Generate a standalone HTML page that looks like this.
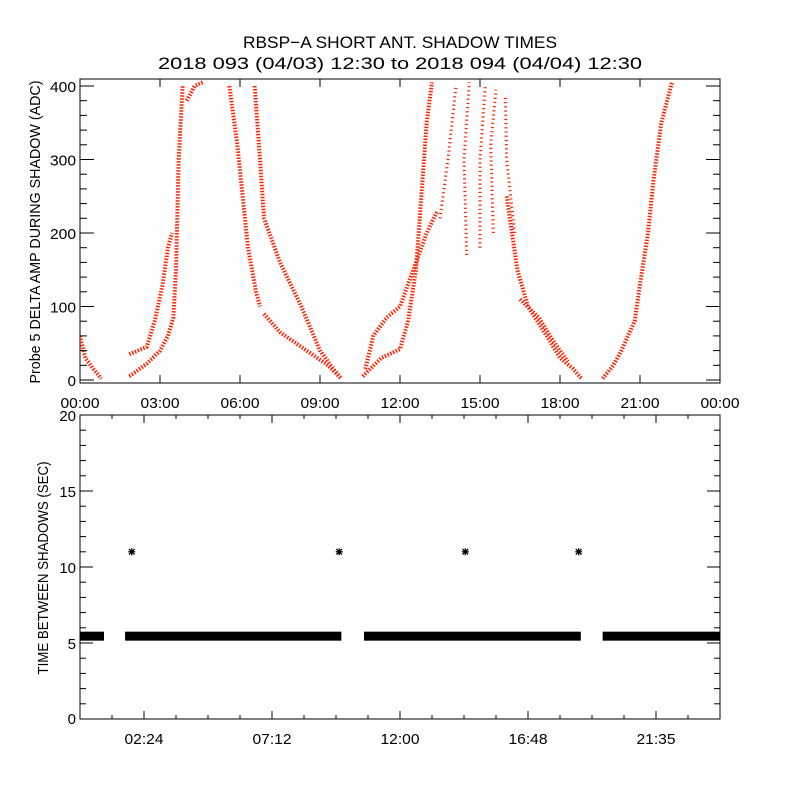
<!DOCTYPE html>
<html><head><meta charset="utf-8"><style>
body{margin:0;background:#fff;}
svg text{font-family:"Liberation Sans",sans-serif;fill:#000;}
</style></head><body>
<svg id="chart" width="800" height="800" viewBox="0 0 800 800">
<rect width="800" height="800" fill="#fff"/>
<text x="400" y="48" font-size="17" text-anchor="middle" textLength="314" lengthAdjust="spacingAndGlyphs">RBSP−A SHORT ANT. SHADOW TIMES</text>
<text x="400" y="69" font-size="17" text-anchor="middle" textLength="484" lengthAdjust="spacingAndGlyphs">2018 093 (04/03) 12:30 to 2018 094 (04/04) 12:30</text>
<g id="topPanel"></g>
<g id="botPanel"></g>
</svg>
<script>
// ---- top panel data: each branch is [hours, ADC] keypoints
const ampBranchA = [[0,60],[0.2,30],[0.5,15],[0.8,2]];
const ampBranchB = [[1.85,5],[2.5,22],[3.0,40],[3.3,60],[3.5,85],[3.6,150],[3.7,300],[3.85,400]];
const ampBranchC = [[1.85,35],[2.5,45],[2.8,80],[3.1,130],[3.3,180],[3.45,200]];
const ampBranchD = [[4.0,380],[4.3,400],[4.6,405]];
const ampBranchE = [[5.6,400],[5.9,320],[6.1,250],[6.3,180],[6.6,120],[6.75,100]];
const ampBranchF = [[6.55,400],[6.75,300],[6.9,220],[7.5,160],[8.3,100],[9.0,40],[9.5,15],[9.8,2]];
const ampBranchG = [[6.9,90],[7.5,65],[8.5,40],[9.3,20],[9.8,2]];
const ampBranchH = [[10.6,5],[11.3,30],[12.0,42],[12.3,80],[12.6,150],[12.8,250],[13.0,350],[13.2,405]];
const ampBranchI = [[10.7,15],[11.0,60],[11.5,85],[12.0,100],[12.5,150],[13.0,200],[13.4,230]];
const ampBranchJ = [[13.5,220],[13.8,300],[14.1,400]];
const ampBranchK = [[14.5,170],[14.4,300],[14.6,405]];
const ampBranchL = [[15.0,180],[15.0,300],[15.2,400]];
const ampBranchM = [[15.5,200],[15.4,320],[15.6,395]];
const ampBranchN = [[16.3,200],[16.0,300],[15.95,385]];
const ampBranchO = [[16.0,250],[16.4,150],[16.8,100],[17.5,60],[18.0,30],[18.5,15],[18.8,2]];
const ampBranchP = [[16.5,110],[17.2,85],[17.8,50],[18.3,25]];
const ampBranchQ = [[19.6,2],[20.0,20],[20.3,40],[20.8,80],[21.0,130],[21.3,200],[21.5,270],[21.8,350],[22.2,405]];
const ampBranches = [ampBranchA,ampBranchB,ampBranchC,ampBranchD,ampBranchE,ampBranchF,ampBranchG,ampBranchH,ampBranchI,ampBranchJ,ampBranchK,ampBranchL,ampBranchM,ampBranchN,ampBranchO,ampBranchP,ampBranchQ];
const topXTicks = ["00:00","03:00","06:00","09:00","12:00","15:00","18:00","21:00","00:00"];
const topYTicks = [0,100,200,300,400];
// ---- bottom panel data
const gapSegStart = [0,1.69,10.65,19.6];
const gapSegEnd = [0.9,9.8,18.78,24];
const gapSegValue = [5.45,5.45,5.45,5.45];
const outlierHours = [1.94,9.72,14.45,18.7];
const outlierValues = [11,11,11,11];
const botXTicks = ["02:24","07:12","12:00","16:48","21:35"];
const botXTickHours = [2.4,7.2,12,16.8,21.6];
const botYTicks = [0,5,10,15,20];

const NS="http://www.w3.org/2000/svg";
function mk(parent,tag,attrs){const e=document.createElementNS(NS,tag);for(const k in attrs)e.setAttribute(k,attrs[k]);parent.appendChild(e);return e;}
const X0=80,X1=720;
const xH=h=>X0+h/24*(X1-X0);
const yTop=v=>380-v*0.735;
const yBot=v=>719-v*15.2;
const topG=document.getElementById('topPanel'), botG=document.getElementById('botPanel');

let f=mk(topG,'rect',{x:80,y:79,width:640,height:304,fill:'none',stroke:'#000','stroke-width':1});


const clip=mk(topG,'clipPath',{id:'ct'});mk(clip,'rect',{x:80,y:79,width:640,height:304});
const dataG=mk(topG,'g',{'clip-path':'url(#ct)'});
ampBranches.forEach((b,i)=>{
  const sparse=i>=9&&i<=13;
  const p=mk(dataG,'polyline',{points:b.map(d=>xH(d[0])+','+yTop(d[1])).join(' '),fill:'none',stroke:'#ff2200','stroke-width':sparse?3:4,'stroke-dasharray':sparse?'1.2 3':'1.5 1.5'});
  
  
});
for(let v=0;v<=400;v+=20){
  const len=v%100===0?14:7;
  mk(topG,'line',{x1:80,x2:80+len,y1:yTop(v),y2:yTop(v),stroke:'#000'});
  mk(topG,'line',{x1:720,x2:720-len,y1:yTop(v),y2:yTop(v),stroke:'#000'});
}
topYTicks.forEach(v=>{const t=mk(topG,'text',{x:76,y:yTop(v)+6,'font-size':15,'text-anchor':'end'});t.textContent=v;
if(v>0){t.setAttribute('textLength',v>=100?26:9);t.setAttribute('lengthAdjust','spacingAndGlyphs');}

});
topXTicks.forEach((s,i)=>{const x=xH(i*3);
 mk(topG,'line',{x1:x,x2:x,y1:383,y2:375,stroke:'#000'});mk(topG,'line',{x1:x,x2:x,y1:79,y2:87,stroke:'#000'});
 const t=mk(topG,'text',{x:x,y:408,'font-size':15,'text-anchor':'middle',textLength:39,lengthAdjust:'spacingAndGlyphs'});t.textContent=s;
 
 });
let yt=mk(topG,'text',{x:0,y:0,'font-size':15,'text-anchor':'middle',textLength:303,lengthAdjust:'spacingAndGlyphs',transform:'translate(40,232) rotate(-90)'});
yt.textContent='Probe 5 DELTA AMP DURING SHADOW (ADC)';



f=mk(botG,'rect',{x:80,y:415,width:640,height:304,fill:'none',stroke:'#000'});


for(let v=0;v<=20;v+=1){const len=v%5===0?13:6;
 mk(botG,'line',{x1:80,x2:80+len,y1:yBot(v),y2:yBot(v),stroke:'#000'});
 mk(botG,'line',{x1:720,x2:720-len,y1:yBot(v),y2:yBot(v),stroke:'#000'});}
botYTicks.forEach(v=>{const t=mk(botG,'text',{x:76,y:Math.min(yBot(v)+6,724),'font-size':15,'text-anchor':'end'});t.textContent=v;

});
for(let k=1;k<20;k++){const x=xH(k*1.2);const len=k%4===2?8:4;
 mk(botG,'line',{x1:x,x2:x,y1:719,y2:719-len,stroke:'#000'});mk(botG,'line',{x1:x,x2:x,y1:415,y2:415+len,stroke:'#000'});}
botXTicks.forEach((s,i)=>{const t=mk(botG,'text',{x:xH(botXTickHours[i]),y:744,'font-size':15,'text-anchor':'middle',textLength:39,lengthAdjust:'spacingAndGlyphs'});t.textContent=s;

});
gapSegStart.forEach((s,i)=>{const r=mk(botG,'rect',{x:xH(s),y:yBot(gapSegValue[i])-4.5,width:xH(gapSegEnd[i])-xH(s),height:9,fill:'#000'});
 
 });
outlierHours.forEach((h,i)=>{const cx=xH(h),cy=yBot(outlierValues[i]);
 const g=mk(botG,'g',{stroke:'#000','stroke-width':1.3});
 
 
 mk(g,'line',{x1:cx-3.5,x2:cx+3.5,y1:cy,y2:cy});
 mk(g,'line',{x1:cx,x2:cx,y1:cy-3.5,y2:cy+3.5});
 mk(g,'line',{x1:cx-2.8,x2:cx+2.8,y1:cy-2.8,y2:cy+2.8});
 mk(g,'line',{x1:cx-2.8,x2:cx+2.8,y1:cy+2.8,y2:cy-2.8});
});
yt=mk(botG,'text',{x:0,y:0,'font-size':15,'text-anchor':'middle',textLength:213,lengthAdjust:'spacingAndGlyphs',transform:'translate(48,568) rotate(-90)'});
yt.textContent='TIME BETWEEN SHADOWS (SEC)';


</script>
</body></html>
